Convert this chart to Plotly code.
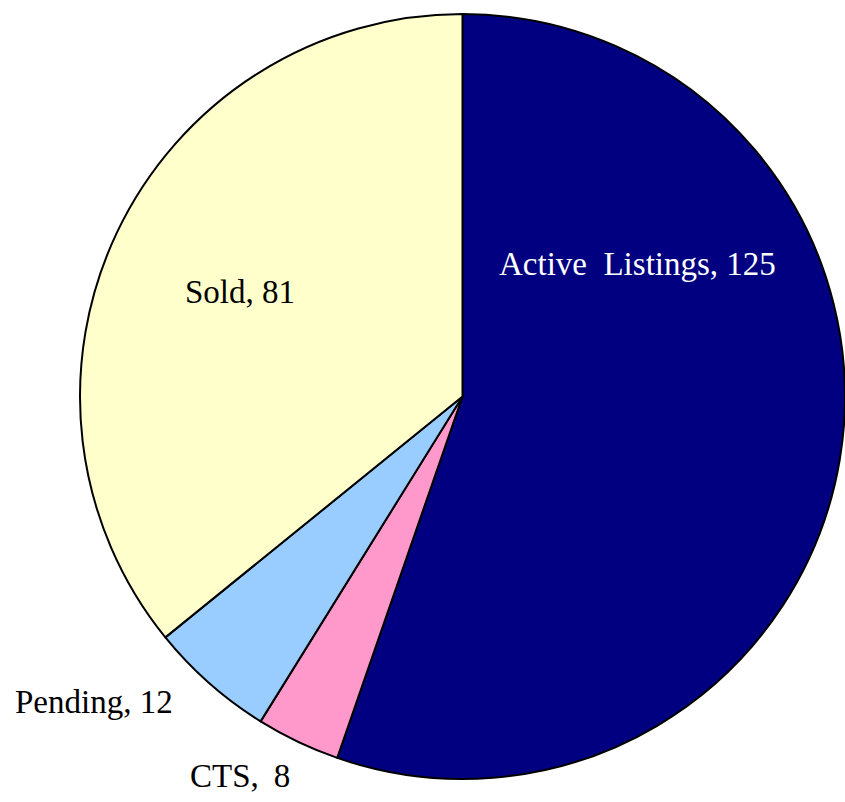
import plotly.graph_objects as go

categories = ["Active Listings", "CTS", "Pending", "Sold"]
values = [125, 8, 12, 81]
colors = ["#000080", "#FF99CC", "#99CCFF", "#FFFFCC"]
label_colors = ["white", "black", "black", "black"]
# label text spacing as seen in the reference
label_texts = ["Active\u00a0 Listings, 125", "CTS,\u2009 8", "Pending, 12", "Sold, 81"]
# label anchor positions in paper coords (x, y)
label_pos = [(0.754, 0.6714), (0.284, 0.0324), (0.1107, 0.1247), (0.2846, 0.6365)]

W, H = 845, 802

fig = go.Figure(go.Pie(
    labels=categories,
    values=values,
    sort=False,
    direction="clockwise",
    rotation=0,
    textinfo="none",
    hoverinfo="label+value",
    marker=dict(colors=colors, line=dict(color="black", width=2)),
    domain=dict(x=[80 / W, 1.0], y=[1 - 780 / H, 1 - 13 / H]),
    showlegend=False,
))

for txt, col, (px, py) in zip(label_texts, label_colors, label_pos):
    fig.add_annotation(
        x=px, y=py, xref="paper", yref="paper",
        text=txt, showarrow=False,
        xanchor="center", yanchor="middle",
        font=dict(family="Liberation Serif", size=33, color=col),
    )

fig.update_layout(
    width=W, height=H,
    margin=dict(l=0, r=0, t=0, b=0),
    paper_bgcolor="white",
    plot_bgcolor="white",
)

fig.write_html(
    "out.html",
    config={"displayModeBar": False},
    post_script="document.body.style.margin='0';document.body.style.overflow='hidden';",
)
